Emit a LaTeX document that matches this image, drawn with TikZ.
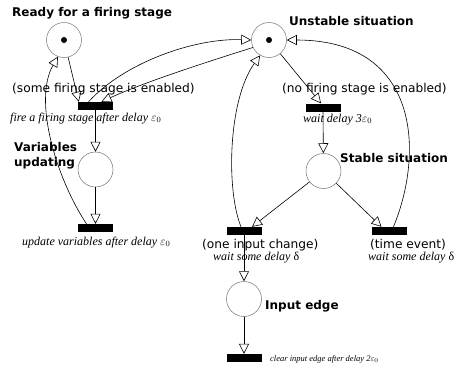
\documentclass[tikz,border=0pt]{standalone}
\usepackage{fontspec}
\setmainfont{Liberation Serif}
\setsansfont{DejaVu Sans}
\usetikzlibrary{arrows.meta}
\begin{document}
\begin{tikzpicture}[x=1pt, y=-1pt]
    \tikzstyle{place}=[circle, draw=black!55, line width=0.5pt, minimum size=35pt, inner sep=0pt]
    \tikzstyle{token}=[circle, fill=black, minimum size=6pt, inner sep=0pt]
    \tikzstyle{trans}=[fill=black, minimum width=35pt, minimum height=8pt, inner sep=0pt]
    \tikzstyle{arc}=[line width=0.6pt, -{Triangle[open, length=10pt, width=10pt]}]
    \tikzstyle{title}=[font=\sffamily\bfseries\fontsize{12}{15}\selectfont, inner sep=0pt]
    \tikzstyle{guard}=[font=\sffamily\fontsize{12.2}{14}\selectfont, anchor=base west, inner sep=0pt]
    \tikzstyle{action}=[font=\itshape\fontsize{12}{14}\selectfont, anchor=base west, inner sep=0pt]
    \useasboundingbox (0,0) rectangle (459,368);
    % places
    \node [place] (ready) at (64, 40) {};
    \node [place] (unstable) at (269, 40) {};
    \node [place] (var) at (95.5, 169.5) {};
    \node [place] (stable) at (323.5, 171) {};
    \node [place] (input) at (244, 299) {};
    \node [token] (readytok) at (ready) {};
    \node [token] (unstabletok) at (unstable) {};
    % transitions
    \node [trans] (fire) at (95.5, 106) {};
    \node [trans] (update) at (95.5, 228) {};
    \node [trans] (wait3) at (323, 107.5) {};
    \node [trans] (one) at (244, 231) {};
    \node [trans] (time) at (389.5, 231) {};
    \node [trans] (clear) at (244, 358) {};
    % texts
    \node [title, anchor=base west] (readylbl) at (12, 16) {Ready for a firing stage};
    \node [title, anchor=base west] (unstablelbl) at (289, 25) {Unstable situation};
    \node [title, anchor=west, align=left] (varlbl) at (14, 156) {Variables\\updating};
    \node [title, anchor=base west] (stablelbl) at (340, 162) {Stable situation};
    \node [title, anchor=base west] (inputlbl) at (265, 309) {Input edge};
    \node [guard] (somelbl) at (12, 92) {(some firing stage is enabled)};
    \node [guard] (nolbl) at (282, 92) {(no firing stage is enabled)};
    \node [guard] (onelbl) at (202, 248) {(one input change)};
    \node [guard] (timelbl) at (370, 248) {(time event)};
    \node [action] (firelbl) at (10, 121) {fire a firing stage after delay $\varepsilon_0$};
    \node [action] (wait3lbl) at (303, 122) {wait delay 3$\varepsilon_0$};
    \node [action] (updatelbl) at (22, 245) {update variables after delay $\varepsilon_0$};
    \node [action] (onedlbl) at (213, 260) {wait some delay {\upshape δ}};
    \node [action] (timedlbl) at (368, 260) {wait some delay {\upshape δ}};
    \node [action, font=\itshape\fontsize{8.5}{10}\selectfont] (clearlbl) at (270, 361) {clear input edge after delay 2$\varepsilon_0$};
    % arcs
    \draw [arc] (ready) -- ([xshift=1pt]fire.north west);
    \draw [arc] ([xshift=-7pt]fire.north) .. controls (125, 62) and (195, 38) .. (unstable.west);
    \draw [arc] (unstable.205) .. controls (200, 64) and (140, 84) .. ([xshift=6pt]fire.north);
    \draw [arc] (fire) -- (var);
    \draw [arc] (var) -- (update);
    \draw [arc] ([xshift=-9pt]update.north) .. controls (56, 178) and (33, 100) .. (ready.250);
    \draw [arc] (unstable) -- ([xshift=-2pt]wait3.north);
    \draw [arc] (wait3) -- (stable);
    \draw [arc] (stable) -- ([xshift=8pt]one.north);
    \draw [arc] (stable) -- ([xshift=-8pt]time.north);
    \draw [arc] ([xshift=-3pt]one.north) .. controls (226, 190) and (228, 100) .. (unstable.240);
    \draw [arc] ([xshift=4pt]time.north) .. controls (425, 150) and (418, 40) .. (unstable.east);
    \draw [arc] (one) -- (input);
    \draw [arc] (input) -- (clear);
\end{tikzpicture}
\end{document}
